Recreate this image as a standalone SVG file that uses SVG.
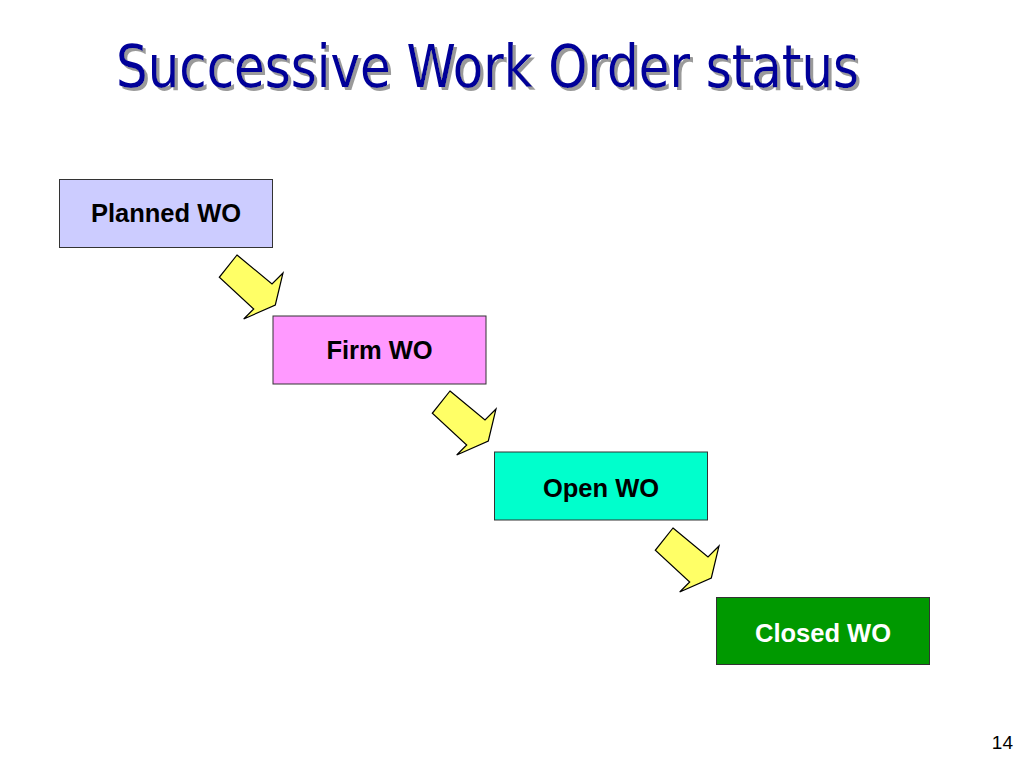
<svg xmlns="http://www.w3.org/2000/svg" width="1024" height="768" viewBox="0 0 1024 768">
<style>
.title{font-family:"DejaVu Sans Condensed","DejaVu Sans",sans-serif;font-size:58px;}
.box{stroke:#333333;stroke-width:1;}
.lbl{font-family:"Liberation Sans",Arial,sans-serif;font-weight:bold;font-size:25.5px;text-anchor:middle;}
.arrow{fill:#FFFF66;stroke:#000000;stroke-width:1.2;stroke-linejoin:miter;}
</style>
<defs>
<polygon id="arr" points="25,6 60,35 71,24 63.3,56 31.7,70 41.7,60 7.3,28.3"/>
<filter id="shadow" x="-5%" y="-20%" width="110%" height="150%">
<feOffset in="SourceAlpha" dx="3" dy="3" result="off"/>
<feFlood flood-color="#9a9a9a"/>
<feComposite in2="off" operator="in" result="sh"/>
<feMerge><feMergeNode in="sh"/><feMergeNode in="SourceGraphic"/></feMerge>
</filter>
</defs>
<rect width="1024" height="768" fill="#ffffff"/>
<g id="title">
<text class="title" x="116" y="87" fill="#000099" filter="url(#shadow)" textLength="743" lengthAdjust="spacingAndGlyphs">Successive Work Order status</text>
</g>
<g id="connectors">
<use href="#arr" class="arrow" transform="translate(212,249)"/>
<use href="#arr" class="arrow" transform="translate(425,385)"/>
<use href="#arr" class="arrow" transform="translate(648,522)"/>
</g>
<g id="planned">
<rect class="box" x="59.5" y="179.5" width="213" height="68" fill="#CCCCFF"/>
<text class="lbl" x="166" y="221.5" fill="#000000">Planned WO</text>
</g>
<g id="firm">
<rect class="box" x="273" y="316" width="213" height="68" fill="#FF99FF"/>
<text class="lbl" x="379.5" y="359" fill="#000000">Firm WO</text>
</g>
<g id="open">
<rect class="box" x="494.5" y="452" width="213" height="68" fill="#00FFCC"/>
<text class="lbl" x="601" y="496.5" fill="#000000">Open WO</text>
</g>
<g id="closed">
<rect class="box" x="716.5" y="597.5" width="213" height="67" fill="#009900"/>
<text class="lbl" x="823" y="641.5" fill="#ffffff">Closed WO</text>
</g>
<text x="1013" y="749" font-family="'Liberation Sans',sans-serif" font-size="19" text-anchor="end" fill="#000000">14</text>
</svg>
